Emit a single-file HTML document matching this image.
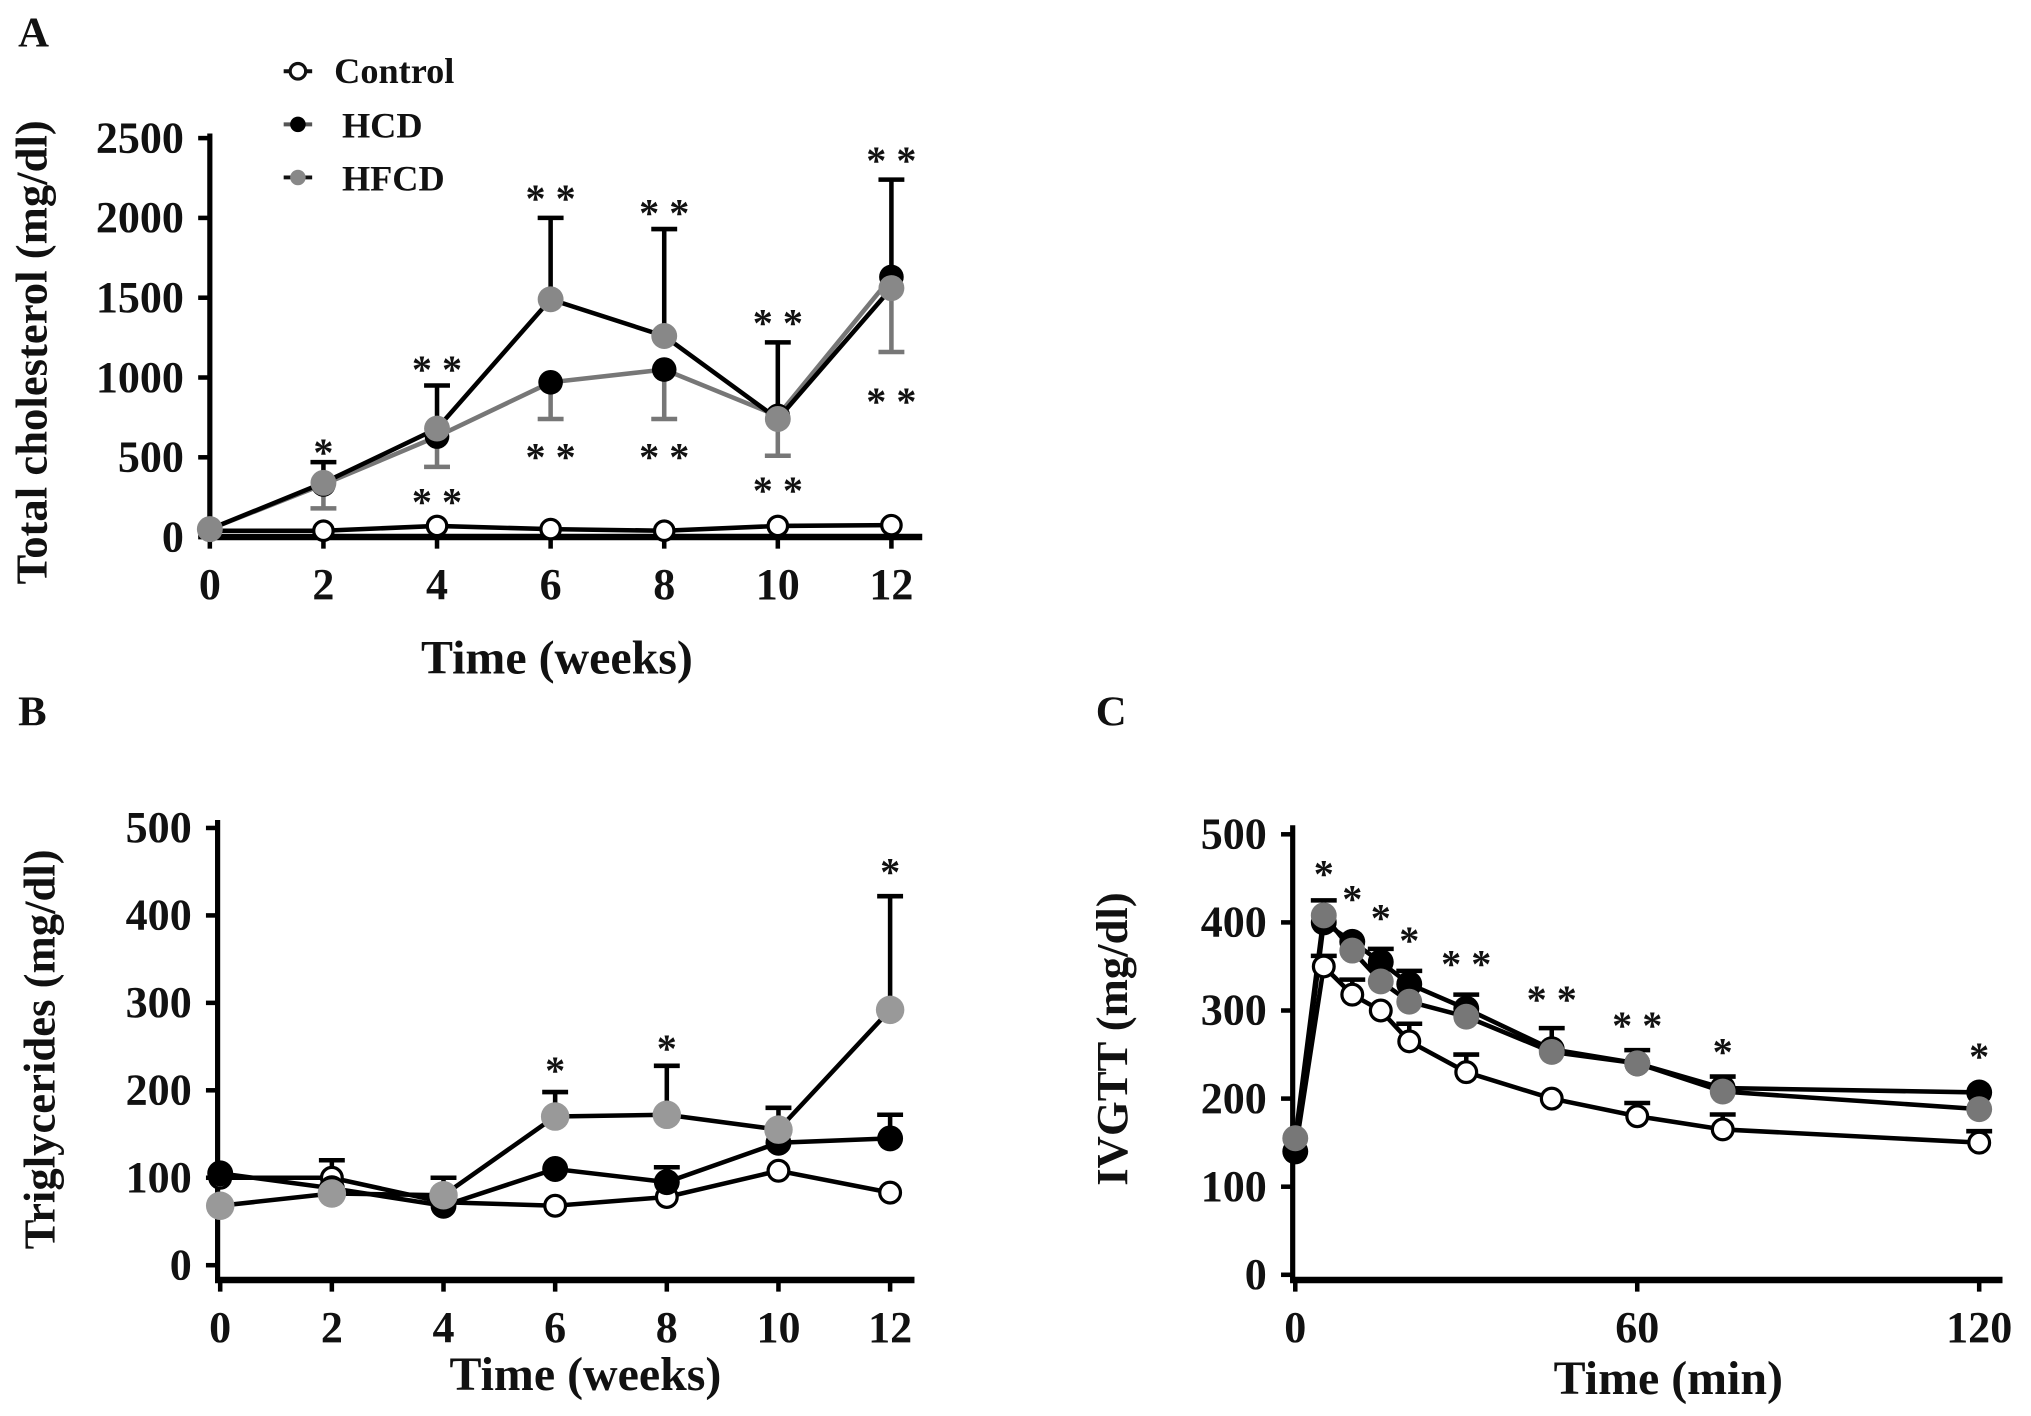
<!DOCTYPE html>
<html><head><meta charset="utf-8"><style>
html,body{margin:0;padding:0;background:#fff;}
svg{display:block;}
text{font-family:"Liberation Serif",serif;font-weight:bold;fill:#111;}
</style></head><body>
<svg id="fig" width="2031" height="1416" viewBox="0 0 1568 1093" preserveAspectRatio="none" xmlns="http://www.w3.org/2000/svg">
<rect width="1568" height="1093" fill="#fff"/>
<text x="14" y="36" font-size="33">A</text>
<text x="14" y="560" font-size="33">B</text>
<text x="846" y="560" font-size="33">C</text>
<g>
 <g><line x1="219" y1="55" x2="241" y2="55" stroke="#111" stroke-width="3"/><circle cx="230" cy="55" r="6" fill="#fff" stroke="#111" stroke-width="2.5"/><text x="258" y="64" font-size="28">Control</text></g>
 <g><line x1="219" y1="96" x2="241" y2="96" stroke="#555" stroke-width="3"/><circle cx="230" cy="96" r="6" fill="#000"/><text x="264" y="106" font-size="28">HCD</text></g>
 <g><line x1="219" y1="137" x2="241" y2="137" stroke="#111" stroke-width="3"/><circle cx="230" cy="137" r="6" fill="#888"/><text x="264" y="147" font-size="28">HFCD</text></g>
</g>
<g id="pa"></g>
<g id="pb"></g>
<g id="pc"></g>
</svg>
<script>
// Panel A: total cholesterol
const aWeeks = [0,2,4,6,8,10,12];
const aControl = [40,40,70,50,40,70,75];
const aHCD = [50,330,630,970,1050,760,1630];
const aHFCD = [50,340,680,1490,1260,740,1560];
const aHFCDErrUp = [null,470,950,2000,1930,1220,2240];
const aHCDErrDown = [null,180,440,740,740,510,1160];
const aStarsAbove = ["","*","**","**","**","**","**"];
const aStarsAboveVal = [0,560,1080,2150,2060,1370,2390];
const aStarsBelow = ["","","**","**","**","**","**"];
const aStarsBelowVal = [0,0,250,530,530,320,880];
const aYTicks = [0,500,1000,1500,2000,2500];

// Panel B: triglycerides
const bWeeks = [0,2,4,6,8,10,12];
const bControl = [100,100,72,68,78,108,83];
const bHCD = [105,88,68,110,95,140,145];
const bHFCD = [68,82,80,170,172,155,292];
const bControlErrUp = [null,120,null,null,null,null,null];
const bHCDErrUp = [null,null,null,null,112,null,172];
const bHFCDErrUp = [null,null,100,198,228,180,422];
const bStars = ["","","","*","*","","*"];
const bStarsVal = [0,0,0,228,253,0,455];
const bYTicks = [0,100,200,300,400,500];

// Panel C: IVGTT
const cMins = [0,5,10,15,20,30,45,60,75,120];
const cControl = [140,350,318,300,265,230,200,180,165,150];
const cHCD = [140,400,378,355,330,302,256,240,212,207];
const cHFCD = [155,408,368,333,310,293,253,240,208,188];
const cControlErrUp = [null,362,335,null,285,250,null,195,182,163];
const cHCDErrUp = [null,425,null,370,345,318,280,255,225,null];
const cStars = ["","*","*","*","*","**","**","**","*","*"];
const cStarsVal = [0,460,432,410,385,358,318,288,258,253];
const cXTicks = [0,60,120];
const cYTicks = [0,100,200,300,400,500];

const NS = "http://www.w3.org/2000/svg";
function mk(tag, attrs, parent){const e=document.createElementNS(NS,tag);for(const k in attrs)e.setAttribute(k,attrs[k]);parent.appendChild(e);return e;}

function axes(g, o){
  const yAx = mk('line',{x1:o.x0,y1:o.yTop-3,x2:o.x0,y2:o.axY+2,stroke:'#000','stroke-width':4},g);
  
  
  const xAx = mk('line',{x1:o.x0-2,y1:o.axY,x2:o.xEnd,y2:o.axY,stroke:'#000','stroke-width':5},g);
  
  
  o.yTicks.forEach(v=>{
    const y=o.sy(v);
    mk('line',{x1:o.x0-9,y1:y,x2:o.x0,y2:y,stroke:'#000','stroke-width':3.5},g);
    const t=mk('text',{x:o.x0-20,y:y+11,'font-size':34,'text-anchor':'end'},g);
    t.textContent=v;
    
    
  });
  o.xTicks.forEach(v=>{
    const x=o.sx(v);
    mk('line',{x1:x,y1:o.axY,x2:x,y2:o.axY+9,stroke:'#000','stroke-width':3.5},g);
    const t=mk('text',{x:x,y:o.axY+48,'font-size':34,'text-anchor':'middle'},g);
    t.textContent=v;
    
    
  });
  const xt=mk('text',{x:o.xtX,y:o.xtY,'font-size':37,'text-anchor':'middle'},g);
  xt.textContent=o.xTitle;
  
  
  const yt=mk('text',{x:0,y:0,'font-size':34.5,'text-anchor':'middle',transform:`translate(${o.ytX},${o.ytY}) rotate(-90)`},g);
  yt.textContent=o.yTitle;
  
  
}
function line(g,xs,ys,o,color,name){
  const pts=xs.map((x,i)=>o.sx(x)+','+o.sy(ys[i])).join(' ');
  const p=mk('polyline',{points:pts,fill:'none',stroke:color,'stroke-width':3.5},g);
  
  
}
function errs(g,xs,ys,ev,o,color,name){
  xs.forEach((x,i)=>{ if(ev[i]==null)return;
    const X=o.sx(x),y1=o.sy(ys[i]),y2=o.sy(ev[i]);
    const e=mk('path',{d:`M${X},${y1}V${y2}M${X-10},${y2}H${X+10}`,stroke:color,'stroke-width':3.5,fill:'none'},g);
    
    
  });
}
function pts(g,xs,ys,o,fill,stroke,r,name){
  xs.forEach((x,i)=>{
    const c=mk('circle',{cx:o.sx(x),cy:o.sy(ys[i]),r:r,fill:fill,stroke:stroke,'stroke-width':stroke==='none'?0:2.5},g);
    
    
  });
}
function stars(g,xs,labels,vals,o){
  xs.forEach((x,i)=>{ if(!labels[i])return;
    const t=mk('text',{x:o.sx(x),y:o.sy(vals[i])+14,'font-size':31,'text-anchor':'middle',fill:'#333'},g);
    t.textContent=labels[i].split('').join(' ');
    
    
  });
}

// Panel A
(function(){
  const g=document.getElementById('pa');
  const o={x0:162,xEnd:712,axY:414.5,yTop:106,yTicks:aYTicks,xTicks:aWeeks,
    sx:w=>162+w*43.85, sy:v=>414.6-v*0.1232,
    xTitle:'Time (weeks)',xtX:430,xtY:520,yTitle:'Total cholesterol (mg/dl)',ytX:36,ytY:272};
  axes(g,o);
  line(g,aWeeks,aControl,o,'#000','line-control');
  errs(g,aWeeks,aHCD,aHCDErrDown,o,'#777','error-bar-hcd');
  errs(g,aWeeks,aHFCD,aHFCDErrUp,o,'#000','error-bar-hfcd');
  line(g,aWeeks,aHCD,o,'#777','line-hcd');
  line(g,aWeeks,aHFCD,o,'#000','line-hfcd');
  pts(g,aWeeks,aControl,o,'#fff','#000',7.5,'point-control');
  pts(g,aWeeks,aHCD,o,'#000','none',9.5,'point-hcd');
  pts(g,aWeeks,aHFCD,o,'#888','none',10,'point-hfcd');
  stars(g,aWeeks,aStarsAbove,aStarsAboveVal,o);
  stars(g,aWeeks,aStarsBelow,aStarsBelowVal,o);
})();
// Panel B
(function(){
  const g=document.getElementById('pb');
  const o={x0:168,xEnd:706,axY:988,yTop:636,yTicks:bYTicks,xTicks:bWeeks,
    sx:w=>170+w*43.1, sy:v=>976.6-v*0.675,
    xTitle:'Time (weeks)',xtX:452,xtY:1073,yTitle:'Triglycerides (mg/dl)',ytX:42,ytY:810};
  axes(g,o);
  errs(g,bWeeks,bControl,bControlErrUp,o,'#000','error-bar-control');
  errs(g,bWeeks,bHCD,bHCDErrUp,o,'#000','error-bar-hcd');
  errs(g,bWeeks,bHFCD,bHFCDErrUp,o,'#000','error-bar-hfcd');
  line(g,bWeeks,bControl,o,'#000','line-control');
  line(g,bWeeks,bHCD,o,'#000','line-hcd');
  line(g,bWeeks,bHFCD,o,'#000','line-hfcd');
  pts(g,bWeeks,bControl,o,'#fff','#000',8,'point-control');
  pts(g,bWeeks,bHCD,o,'#000','none',10,'point-hcd');
  pts(g,bWeeks,bHFCD,o,'#999','none',11,'point-hfcd');
  stars(g,bWeeks,bStars,bStarsVal,o);
})();
// Panel C
(function(){
  const g=document.getElementById('pc');
  const o={x0:998,xEnd:1546,axY:988,yTop:640,yTicks:cYTicks,xTicks:cXTicks,
    sx:m=>1000+m*4.4, sy:v=>984-v*0.68,
    xTitle:'Time (min)',xtX:1288,xtY:1076,yTitle:'IVGTT (mg/dl)',ytX:870,ytY:802};
  axes(g,o);
  errs(g,cMins,cControl,cControlErrUp,o,'#000','error-bar-control');
  errs(g,cMins,cHCD,cHCDErrUp,o,'#000','error-bar-hcd');
  line(g,cMins,cControl,o,'#000','line-control');
  line(g,cMins,cHCD,o,'#000','line-hcd');
  line(g,cMins,cHFCD,o,'#000','line-hfcd');
  pts(g,cMins,cControl,o,'#fff','#000',8,'point-control');
  pts(g,cMins,cHCD,o,'#000','none',10,'point-hcd');
  pts(g,cMins,cHFCD,o,'#777','none',10,'point-hfcd');
  stars(g,cMins,cStars,cStarsVal,o);
})();
</script>
</body></html>
